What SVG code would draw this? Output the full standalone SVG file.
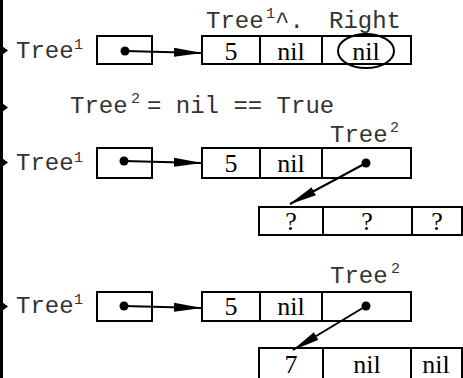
<svg xmlns="http://www.w3.org/2000/svg" width="463" height="378" viewBox="0 0 463 378">
<style>
.m{font-family:"Liberation Mono","Courier New",monospace;font-size:24px;fill:#333}
.s{font-family:"Liberation Mono","Courier New",monospace;font-size:15px;fill:#333}
.v{font-family:"Liberation Serif","Times New Roman",serif;font-size:26px;fill:#000;text-anchor:middle}
.b{fill:#fff;stroke:#000;stroke-width:2}
.c{stroke:#000;stroke-width:2;fill:none}
.l{stroke:#000;stroke-width:2;fill:none;marker-end:url(#ah)}
</style>
<defs>
<marker id="ah" viewBox="0 0 28 10" refX="27" refY="5" markerWidth="28" markerHeight="10" markerUnits="userSpaceOnUse" orient="auto">
<path d="M0,0.5 L28,5 L0,9.5 z" fill="#000"/>
</marker>
</defs>
<rect width="463" height="378" fill="#fff"/>
<g id="rail">
<line x1="1.5" y1="0" x2="1.5" y2="378" stroke="#000" stroke-width="3"/>
<path d="M2,46 L8,50.5 L2,55 z M2,103 L8,107.5 L2,112 z M2,158 L8,162.5 L2,167 z M2,302 L8,306.5 L2,311 z" fill="#000"/>
</g>
<g id="labels">
<text class="m" x="16" y="58">Tree</text><text class="s" x="74" y="49">1</text>
<text class="m" x="206" y="28">Tree</text><text class="s" x="266" y="18">1</text><text class="m" x="275" y="28">^.</text><text class="m" x="329" y="28">Right</text>
<text class="m" x="70" y="113">Tree</text><text class="s" x="131" y="103">2</text><text class="m" x="147" y="113">= nil == True</text>
<text class="m" x="330" y="142">Tree</text><text class="s" x="390" y="132">2</text>
<text class="m" x="16" y="170">Tree</text><text class="s" x="74" y="162">1</text>
<text class="m" x="330" y="283">Tree</text><text class="s" x="391" y="273">2</text>
<text class="m" x="16" y="313">Tree</text><text class="s" x="74" y="304">1</text>
</g>
<g id="ptr1"><rect class="b" x="97" y="36" width="55" height="28"/></g>
<g id="rec1">
<rect class="b" x="202" y="36" width="209" height="28"/>
<line class="c" x1="260" y1="36" x2="260" y2="64"/><line class="c" x1="322" y1="36" x2="322" y2="64"/>
<text class="v" x="231" y="60">5</text><text class="v" x="291" y="60">nil</text><text class="v" x="366" y="60">nil</text>
<ellipse class="c" cx="366" cy="51" rx="28" ry="17"/>
</g>
<g id="ptr2"><rect class="b" x="97" y="148" width="55" height="30"/></g>
<g id="rec2">
<rect class="b" x="202" y="148" width="209" height="30"/>
<line class="c" x1="260" y1="148" x2="260" y2="178"/><line class="c" x1="322" y1="148" x2="322" y2="178"/>
<text class="v" x="231" y="172">5</text><text class="v" x="291" y="172">nil</text>
</g>
<g id="rec2b">
<rect class="b" x="259" y="207" width="203" height="28"/>
<line class="c" x1="323" y1="207" x2="323" y2="235"/><line class="c" x1="412" y1="207" x2="412" y2="235"/>
<text class="v" x="291" y="230">?</text><text class="v" x="367" y="230">?</text><text class="v" x="437" y="230">?</text>
</g>
<g id="ptr3"><rect class="b" x="97" y="292" width="55" height="29"/></g>
<g id="rec3">
<rect class="b" x="202" y="292" width="209" height="29"/>
<line class="c" x1="260" y1="292" x2="260" y2="321"/><line class="c" x1="322" y1="292" x2="322" y2="321"/>
<text class="v" x="231" y="315">5</text><text class="v" x="291" y="315">nil</text>
</g>
<g id="rec3b">
<rect class="b" x="259" y="348" width="203" height="40"/>
<line class="c" x1="323" y1="348" x2="323" y2="378"/><line class="c" x1="411" y1="348" x2="411" y2="378"/>
<text class="v" x="291" y="373">7</text><text class="v" x="367" y="373">nil</text><text class="v" x="436" y="373">nil</text>
</g>
<g id="connectors">
<circle cx="125" cy="51" r="4.5"/><path class="l" d="M125,51 L201,53"/>
<circle cx="124" cy="161" r="4.5"/><path class="l" d="M124,161 L201,163"/>
<circle cx="366" cy="163" r="4.5"/><path class="l" d="M366,163 L290,204"/>
<circle cx="124" cy="306" r="4.5"/><path class="l" d="M124,306 L201,308"/>
<circle cx="366" cy="306" r="4.5"/><path class="l" d="M366,306 L293,350"/>
</g>
</svg>
